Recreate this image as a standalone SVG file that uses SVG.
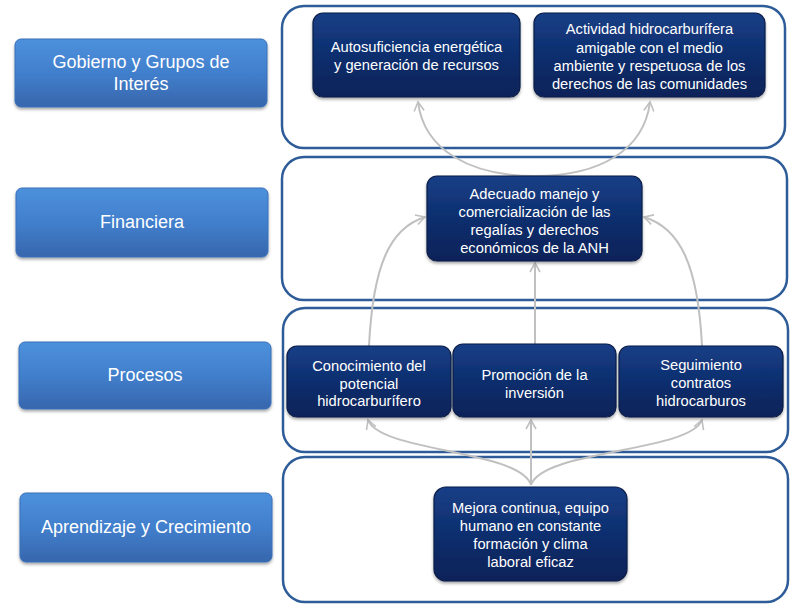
<svg xmlns="http://www.w3.org/2000/svg" width="800" height="615" viewBox="0 0 800 615">
<defs>
<linearGradient id="gL" x1="0" y1="0" x2="0" y2="1">
<stop offset="0" stop-color="#4d90dc"/>
<stop offset="0.5" stop-color="#417fcc"/>
<stop offset="1" stop-color="#3766ad"/>
</linearGradient>
<linearGradient id="gD" x1="0" y1="0" x2="0" y2="1">
<stop offset="0" stop-color="#173f86"/>
<stop offset="0.5" stop-color="#0e2e6e"/>
<stop offset="1" stop-color="#0a2358"/>
</linearGradient>
<filter id="sh" x="-10%" y="-10%" width="120%" height="130%">
<feDropShadow dx="0" dy="2" stdDeviation="1.5" flood-color="#000" flood-opacity="0.35"/>
</filter>
<marker id="ar" viewBox="0 0 12 12" refX="10" refY="6" markerWidth="12" markerHeight="12" markerUnits="userSpaceOnUse" orient="auto">
<path d="M1,1 L10,6 L1,11" fill="none" stroke="#c0c0c0" stroke-width="1.6"/>
</marker>
</defs>
<style>
.lb{fill:url(#gL);stroke:#3a70b8;stroke-width:1;filter:url(#sh)}
.lt{font-family:"Liberation Sans",Arial,sans-serif;font-size:18px;fill:#fff;text-anchor:middle}
.pn{fill:#fff;stroke:#2e5c98;stroke-width:2.5}
.db{fill:url(#gD);stroke:#0a1c48;stroke-width:1.2;filter:url(#sh)}
.dt{font-family:"Liberation Sans",Arial,sans-serif;font-size:14.7px;fill:#fff;text-anchor:middle}
.cn{fill:none;stroke:#c0c0c0;stroke-width:2;marker-end:url(#ar)}
</style>
<rect width="800" height="615" fill="#fff"/>

<g id="label-gobierno"><rect class="lb" x="15" y="39" width="252" height="68" rx="6"/><text class="lt" x="141" y="68">Gobierno y Grupos de</text><text class="lt" x="141" y="90">Interés</text></g>
<g id="label-financiera"><rect class="lb" x="16" y="188" width="252" height="69" rx="6"/><text class="lt" x="142" y="228">Financiera</text></g>
<g id="label-procesos"><rect class="lb" x="19" y="342" width="252" height="67" rx="6"/><text class="lt" x="145" y="381">Procesos</text></g>
<g id="label-aprendizaje"><rect class="lb" x="20" y="493" width="252" height="69" rx="6"/><text class="lt" x="146" y="533">Aprendizaje y Crecimiento</text></g>

<g id="panel-gobierno"><rect class="pn" x="282" y="6" width="503" height="142" rx="22"/></g>
<g id="panel-financiera"><rect class="pn" x="282" y="157" width="505" height="143" rx="22"/></g>
<g id="panel-procesos"><rect class="pn" x="283" y="308" width="505" height="144" rx="22"/></g>
<g id="panel-aprendizaje"><rect class="pn" x="283" y="457" width="505" height="145" rx="22"/></g>

<g id="connectors">
<path class="cn" d="M535,176 C470,176 424,150 418,102"/>
<path class="cn" d="M535,176 C600,176 644,150 650,102"/>
<path class="cn" d="M369,346 C373,265 390,228 425,217"/>
<path class="cn" d="M702,346 C698,265 680,228 644,217"/>
<path class="cn" d="M535,344 L535,263"/>
<path class="cn" d="M531,485 C520,450 380,452 368,420"/>
<path class="cn" d="M531,485 L531,420"/>
<path class="cn" d="M531,485 C542,450 690,452 702,420"/>
</g>

<g id="node-autosuficiencia"><rect class="db" x="313" y="13" width="207" height="84" rx="10"/><text class="dt" x="416.5" y="52">Autosuficiencia energética</text><text class="dt" x="416.5" y="70">y generación de recursos</text></g>
<g id="node-actividad"><rect class="db" x="534" y="13" width="231" height="84" rx="10"/><text class="dt" x="649.5" y="34">Actividad hidrocarburífera</text><text class="dt" x="649.5" y="52.5">amigable con el medio</text><text class="dt" x="649.5" y="71">ambiente y respetuosa de los</text><text class="dt" x="649.5" y="89">derechos de las comunidades</text></g>
<g id="node-adecuado"><rect class="db" x="427" y="176" width="215" height="85" rx="10"/><text class="dt" x="534.5" y="199">Adecuado manejo y</text><text class="dt" x="534.5" y="217">comercialización de las</text><text class="dt" x="534.5" y="235">regalías y derechos</text><text class="dt" x="534.5" y="253">económicos de la ANH</text></g>
<g id="node-conocimiento"><rect class="db" x="287" y="346" width="164" height="71" rx="10"/><text class="dt" x="369" y="371">Conocimiento del</text><text class="dt" x="369" y="388.5">potencial</text><text class="dt" x="369" y="406">hidrocarburífero</text></g>
<g id="node-promocion"><rect class="db" x="453" y="344" width="163" height="73" rx="10"/><text class="dt" x="534.5" y="380">Promoción de la</text><text class="dt" x="534.5" y="397.5">inversión</text></g>
<g id="node-seguimiento"><rect class="db" x="619" y="346" width="164" height="71" rx="10"/><text class="dt" x="701" y="370">Seguimiento</text><text class="dt" x="701" y="388">contratos</text><text class="dt" x="701" y="406">hidrocarburos</text></g>
<g id="node-mejora"><rect class="db" x="434" y="487" width="193" height="94" rx="12"/><text class="dt" x="530.5" y="513">Mejora continua, equipo</text><text class="dt" x="530.5" y="531">humano en constante</text><text class="dt" x="530.5" y="549">formación y clima</text><text class="dt" x="530.5" y="567">laboral eficaz</text></g>
</svg>
